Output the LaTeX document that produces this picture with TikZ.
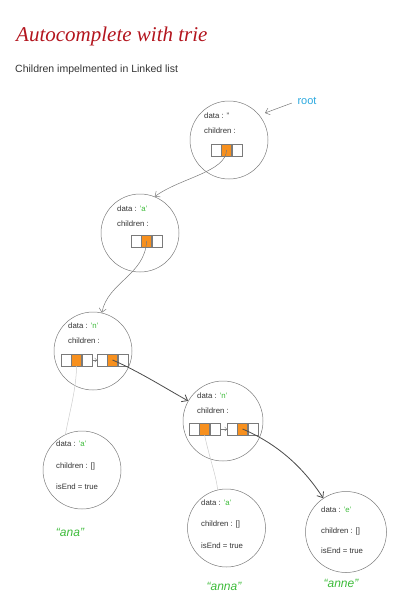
\documentclass[tikz,border=0pt]{standalone}
\usepackage{fontspec}
\setmainfont{Liberation Sans}
\newfontfamily\titlefont{Liberation Serif}
\usetikzlibrary{arrows.meta}
\definecolor{ink}{HTML}{333333}
\definecolor{titlered}{HTML}{B3151E}
\definecolor{greenc}{HTML}{3DBB3A}
\definecolor{cyanc}{HTML}{2AA8DF}
\definecolor{orangec}{HTML}{F7901E}
\definecolor{circc}{HTML}{7A7A7A}
\definecolor{darkline}{HTML}{4A4A4A}
\newcommand\cellrow[2]{%
  \node[cell] (#2l) at (#1) {};
  \node[ocell] (#2m) at (#2l.east) {};
  \node[cell] (#2r) at (#2m.east) {};}
\newcommand\gq[1]{{\color{greenc}'#1'}}
\begin{document}
\begin{tikzpicture}[x=1pt,y=-1pt,
  nodecirc/.style={circle, draw=circc, line width=0.5pt, minimum size=78pt, inner sep=0pt},
  txt/.style={anchor=base west, font=\fontsize{7.8}{9}\selectfont, text=ink, inner sep=0pt},
  cell/.style={draw=circc, line width=0.4pt, minimum width=10pt, minimum height=12pt, inner sep=0pt, anchor=west, fill=white},
  ocell/.style={cell, fill=orangec},
  ptr/.style={draw=circc, line width=0.5pt, -{Straight Barb[length=4pt,width=7pt]}},
  strongptr/.style={draw=darkline, line width=0.8pt, -{Straight Barb[length=5pt,width=8pt]}},
  faint/.style={draw=gray!40, line width=0.5pt},
  link/.style={draw=circc, line width=0.4pt, -{Straight Barb[length=2pt,width=4pt]}},
  word/.style={font=\fontsize{12}{14}\selectfont\itshape, text=greenc, inner sep=0pt},
]
\useasboundingbox (0,0) rectangle (400,611);

% titles
\node[anchor=base west, font=\titlefont\itshape\fontsize{21}{22}\selectfont, text=titlered, inner sep=0pt] (title) at (16,41) {Autocomplete with trie};
\node[anchor=base west, font=\fontsize{10.5}{12}\selectfont, text=ink, inner sep=0pt] (sub) at (15,72) {Children impelmented in Linked list};

% root node
\node[nodecirc] (root) at (229,140) {};
\node[txt] (rootd) at (204,118) {data : ''};
\node[txt] (rootc) at (204,133) {children :};
\cellrow{211,150}{rb}
\node[text=cyanc, font=\fontsize{11}{12}\selectfont, inner sep=0pt] (rootlbl) at (307,101) {root};
\coordinate (rootpt) at (265,113);
\draw[ptr, shorten <=6pt] (rootlbl.west) -- (rootpt);

% a node
\node[nodecirc] (a) at (140,233) {};
\node[txt] (ad) at (117,211) {data : \gq{a}};
\node[txt] (ac) at (117,226) {children :};
\cellrow{131,241}{ab}

% n node
\node[nodecirc] (n) at (93,351) {};
\node[txt] (nd) at (68,328) {data : \gq{n}};
\node[txt] (nc) at (68,343) {children :};
\cellrow{61,360}{na}
\cellrow{97,360}{nb}
\draw[link] (nar.east) -- (nbl.west);

% second n node
\node[nodecirc, minimum size=80pt] (m) at (223,421) {};
\node[txt] (md) at (197,398) {data : \gq{n}};
\node[txt] (mc) at (197,413) {children :};
\cellrow{189,429}{ma}
\cellrow{227,429}{mb}
\draw[link] (mar.east) -- (mbl.west);

% leaves
\node[nodecirc] (ana) at (82,470) {};
\node[txt] (anad) at (56,446) {data : \gq{a}};
\node[txt] (anac) at (56,468) {children : []};
\node[txt] (anae) at (56,489) {isEnd = true};
\node[word] (anaw) at (70,532) {``ana''};

\node[nodecirc] (anna) at (226.5,528) {};
\node[txt] (annad) at (201,505) {data : \gq{a}};
\node[txt] (annac) at (201,526) {children : []};
\node[txt] (annae) at (201,548) {isEnd = true};
\node[word] (annaw) at (224,586) {``anna''};

\node[nodecirc, minimum size=81pt] (anne) at (346,532) {};
\node[txt] (anned) at (321,512) {data : \gq{e}};
\node[txt] (annec) at (321,533) {children : []};
\node[txt] (annee) at (321,553) {isEnd = true};
\node[word] (annew) at (341,583) {``anne''};

% connectors
\draw[ptr] (rbm.center) .. controls (226,172) and (180,178) .. (a.68);
\draw[ptr] (abm.center) .. controls (145,275) and (108,282) .. (n.77);
\draw[strongptr] (nbm.center) .. controls (140,372) and (165,388) .. (m.150);
\draw[strongptr] (mbm.center) .. controls (280,445) and (305,470) .. (anne.124);
\draw[faint] (nam.south) .. controls (76,390) and (70,410) .. (ana.115);
\draw[faint] (mam.south) .. controls (210,460) and (216,475) .. (anna.103);
\end{tikzpicture}
\end{document}
